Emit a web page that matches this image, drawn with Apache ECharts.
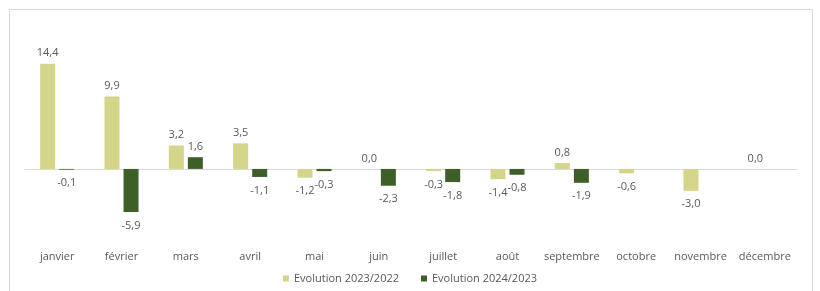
<!DOCTYPE html>
<html>
<head>
<meta charset="utf-8">
<script src="https://cdn.jsdelivr.net/npm/echarts@6/dist/echarts.min.js"></script>
<style>html,body{margin:0;padding:0;background:#fff;}#c{width:820px;height:291px;}</style>
</head>
<body>
<div id="c"></div>
<script>
const categories = ['janvier','février','mars','avril','mai','juin','juillet','août','septembre','octobre','novembre','décembre'];
const evol2023 = [14.4, 9.9, 3.2, 3.5, -1.2, 0.0, -0.3, -1.4, 0.8, -0.6, -3.0, 0.0];
const evol2024 = [-0.1, -5.9, 1.6, -1.1, -0.3, -2.3, -1.8, -0.8, -1.9, null, null, null];
const seriesNames = ['Evolution 2023/2022', 'Evolution 2024/2023'];

const fmt = v => v.toFixed(1).replace('.', ',');
const FONT = '"Open Sans", "Liberation Sans", sans-serif';
function mk(vals) {
  return vals.map(v => v === null ? null : {
    value: v,
    label: { position: v < 0 ? 'bottom' : 'top', distance: v < 0 ? 8 : 5 }
  });
}
const chart = echarts.init(document.getElementById('c'), null, {renderer: 'canvas'});
chart.setOption({
  animation: false,
  textStyle: { fontFamily: FONT },
  graphic: [{
    type: 'rect', shape: { x: 9.5, y: 9.5, width: 803, height: 300 },
    style: { fill: 'none', stroke: '#d9d9d9', lineWidth: 1 }, silent: true, z: -1
  }],
  grid: { left: 25, right: 23, top: 52, bottom: 49, containLabel: false },
  legend: {
    bottom: 2, left: 'center', itemWidth: 6, itemHeight: 6, itemGap: 22, icon: 'rect',
    textStyle: { color: '#595959', fontSize: 11, fontFamily: FONT },
    data: seriesNames
  },
  xAxis: [{
    type: 'category', data: categories,
    axisLine: { onZero: true, lineStyle: { color: '#d9d9d9' } },
    axisTick: { show: false }, axisLabel: { show: false }
  }, {
    type: 'category', data: categories, position: 'bottom',
    axisLine: { show: false, onZero: false }, axisTick: { show: false },
    axisLabel: { color: '#595959', fontSize: 11, margin: 9, fontFamily: FONT, interval: 0 }
  }],
  yAxis: { type: 'value', min: -10, max: 16, show: false, splitLine: { show: false } },
  series: [{
    name: seriesNames[0], type: 'bar', xAxisIndex: 0, data: mk(evol2023),
    barWidth: 15, barGap: '27%',
    itemStyle: { color: '#d4d48b' },
    label: { show: true, formatter: p => fmt(p.value), color: '#595959', fontSize: 11 }
  }, {
    name: seriesNames[1], type: 'bar', xAxisIndex: 0, data: mk(evol2024),
    barWidth: 15, barGap: '27%',
    itemStyle: { color: '#3f5f28' },
    label: { show: true, formatter: p => fmt(p.value), color: '#595959', fontSize: 11 }
  }]
});
</script>
</body>
</html>
